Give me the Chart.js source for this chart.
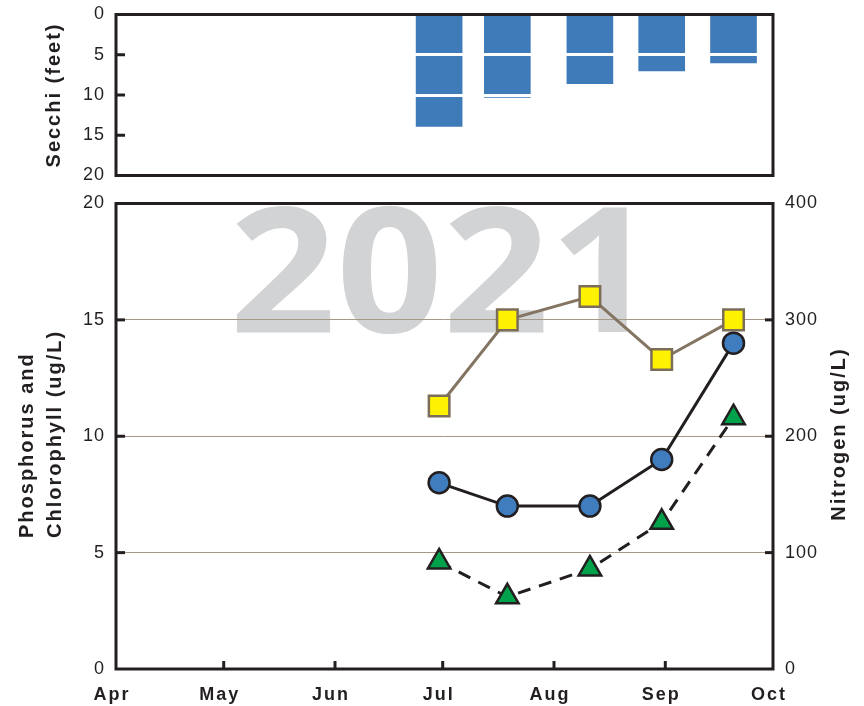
<!DOCTYPE html>
<html>
<head>
<meta charset="utf-8">
<title>Secchi depth and water chemistry 2021</title>
<script src="https://cdn.jsdelivr.net/npm/chart.js@4.4.1/dist/chart.umd.min.js"></script>
<style>
  html, body { margin: 0; padding: 0; background: #fff; }
  #wrap { position: relative; width: 864px; height: 706px; }
  #secchiChart { position: absolute; left: 0; top: 0; }
  #chemChart { position: absolute; left: 0; top: 192px; }
</style>
</head>
<body>
<div id="wrap">
  <canvas id="secchiChart" width="864" height="192"></canvas>
  <canvas id="chemChart" width="864" height="514"></canvas>
</div>
<script>
// Meses del eje x como dia del año (2021)
const monthDays = [91, 121, 152, 182, 213, 244, 274];
const monthLabels = ["Apr", "May", "Jun", "Jul", "Aug", "Sep", "Oct"];

// Fechas de muestreo (dia del año)
const sampleDays = [181, 200, 223, 243, 263];

// Valores
const secchiFeet = [13.9, 10.3, 8.6, 7.0, 6.0];
const phosphorus = [8.0, 7.0, 7.0, 9.0, 14.0];
const chlorophyll = [4.6, 3.1, 4.3, 6.3, 10.8];
const nitrogen = [226, 300, 320, 266, 300];

const secchiTicks = [0, 5, 10, 15, 20];
const leftTicks = [0, 5, 10, 15, 20];
const rightTicks = [0, 100, 200, 300, 400];
const yearLabel = "2021";

const FONT = "'Liberation Sans', Arial, sans-serif";
const INK = "#231f20";
Chart.defaults.font.family = FONT;
Chart.defaults.color = INK;

function toPoints(values) {
  return sampleDays.map((d, i) => ({ x: d, y: values[i] }));
}

function fixTicks(values) {
  return (scale) => { scale.ticks = values.map((v) => ({ value: v })); };
}

// Ancho fijo del eje y sin relleno extra por las etiquetas
function fixWidth(w) {
  return (s) => { s.width = w; s.paddingTop = 0; s.paddingBottom = 0; };
}

// Marca de agua del año, ajustada a la caja que ocupa en el original
function drawWatermark(ctx, wm) {
  ctx.save();
  ctx.letterSpacing = "0px";
  ctx.font = "bold 100px 'Open Sans', " + FONT;
  const m = ctx.measureText(wm.text);
  const glyphH = m.actualBoundingBoxAscent;
  const glyphW = m.actualBoundingBoxLeft + m.actualBoundingBoxRight;
  ctx.translate(wm.left, wm.baseline);
  ctx.scale(wm.width / glyphW, wm.height / glyphH);
  ctx.fillStyle = "#d1d3d4";
  ctx.textAlign = "left";
  ctx.textBaseline = "alphabetic";
  ctx.fillText(wm.text, m.actualBoundingBoxLeft, 0);
  ctx.restore();
}

// Marco, marcas hacia dentro, titulos y marca de agua
const framePlugin = {
  id: "frame",
  beforeDraw(chart, args, opts) {
    const ctx = chart.ctx;
    if (opts.watermark) drawWatermark(ctx, opts.watermark);
    ctx.letterSpacing = "1px";
  },
  afterDraw(chart, args, opts) {
    const ctx = chart.ctx;
    const a = chart.chartArea;
    ctx.save();
    ctx.strokeStyle = INK;
    ctx.lineWidth = 3;
    (opts.ticks || []).forEach((id) => {
      const s = chart.scales[id];
      s.ticks.forEach((t) => {
        const p = s.getPixelForValue(t.value);
        ctx.beginPath();
        if (s.isHorizontal()) {
          if (p <= a.left + 2 || p >= a.right - 2) return;
          ctx.moveTo(p, a.bottom);
          ctx.lineTo(p, a.bottom - 8);
        } else {
          if (p <= a.top + 2 || p >= a.bottom - 2) return;
          if (s.position === "left") {
            ctx.moveTo(a.left, p);
            ctx.lineTo(a.left + 9, p);
          } else {
            ctx.moveTo(a.right, p);
            ctx.lineTo(a.right - 8, p);
          }
        }
        ctx.stroke();
      });
    });
    ctx.lineJoin = "miter";
    ctx.strokeRect(a.left, a.top, a.right - a.left, a.bottom - a.top);

    ctx.fillStyle = INK;

    // Etiquetas de meses
    if (opts.monthAxis) {
      const s = chart.scales[opts.monthAxis];
      ctx.font = "bold 18px " + FONT;
      ctx.letterSpacing = "2px";
      ctx.textAlign = "center";
      ctx.textBaseline = "alphabetic";
      s.ticks.forEach((t) => {
        const label = monthLabels[monthDays.indexOf(t.value)];
        ctx.fillText(label, s.getPixelForValue(t.value) - 4, a.bottom + 31);
      });
    }

    ctx.font = "bold 20px " + FONT;
    ctx.letterSpacing = "2px";
    (opts.titles || []).forEach((tt) => {
      ctx.save();
      ctx.translate(tt.x, tt.y);
      ctx.rotate(-Math.PI / 2);
      ctx.textAlign = tt.align;
      ctx.textBaseline = "alphabetic";
      ctx.fillText(tt.text, 0, 0);
      ctx.restore();
    });
    ctx.restore();
  },
};

const tickFont = { size: 18 };

// Grafica de Secchi (arriba)
new Chart(document.getElementById("secchiChart"), {
  type: "bar",
  data: {
    datasets: [
      {
        label: "Secchi",
        data: toPoints(secchiFeet),
        backgroundColor: "#3e7bb8",
        borderWidth: 0,
        barThickness: 46,
      },
    ],
  },
  options: {
    responsive: false,
    animation: false,
    layout: { autoPadding: false, padding: { top: 14.5, bottom: 16.5, left: 0, right: 91 } },
    plugins: {
      legend: { display: false },
      tooltip: { enabled: false },
      frame: {
        ticks: ["y"],
        titles: [{ text: "Secchi (feet)", x: 60, y: 95, align: "center" }],
      },
    },
    scales: {
      x: {
        type: "linear",
        display: false,
        min: monthDays[0],
        max: monthDays[monthDays.length - 1],
        offset: false,
        grid: { offset: false },
      },
      y: {
        reverse: true,
        min: 0,
        max: 20,
        afterBuildTicks: fixTicks(secchiTicks),
        afterFit: fixWidth(116),
        border: { display: false },
        grid: {
          z: 1,
          lineWidth: 3,
          drawTicks: false,
          color: (c) => (c.tick.value > 0 && c.tick.value < 20 ? "#ffffff" : "rgba(0,0,0,0)"),
        },
        ticks: { font: tickFont, padding: 11 },
      },
    },
  },
  plugins: [framePlugin],
});

// Grafica de fosforo, clorofila y nitrogeno (abajo)
new Chart(document.getElementById("chemChart"), {
  type: "line",
  data: {
    datasets: [
      {
        label: "Chlorophyll",
        data: toPoints(chlorophyll),
        yAxisID: "y",
        borderColor: INK,
        borderWidth: 3,
        borderDash: [13, 9],
        pointStyle: "triangle",
        pointRadius: 13,
        pointBackgroundColor: "#00a14b",
        pointBorderColor: INK,
        pointBorderWidth: 2.5,
        tension: 0,
      },
      {
        label: "Phosphorus",
        data: toPoints(phosphorus),
        yAxisID: "y",
        borderColor: INK,
        borderWidth: 3,
        pointStyle: "circle",
        pointRadius: 10.5,
        pointBackgroundColor: "#3f7dbf",
        pointBorderColor: INK,
        pointBorderWidth: 2.5,
        tension: 0,
      },
      {
        label: "Nitrogen",
        data: toPoints(nitrogen),
        yAxisID: "y2",
        borderColor: "#847562",
        borderWidth: 3,
        pointStyle: "rect",
        pointRadius: 14.5,
        pointBackgroundColor: "#fff200",
        pointBorderColor: "#7c6d59",
        pointBorderWidth: 2.5,
        tension: 0,
      },
    ],
  },
  options: {
    responsive: false,
    animation: false,
    layout: { autoPadding: false, padding: { top: 11.5, bottom: 0, left: 0, right: 0 } },
    plugins: {
      legend: { display: false },
      tooltip: { enabled: false },
      frame: {
        ticks: ["x", "y", "y2"],
        monthAxis: "x",
        watermark: { text: yearLabel, left: 235, baseline: 140, width: 393, height: 127 },
        titles: [
          { text: "Phosphorus and", x: 33, y: 346, align: "left" },
          { text: "Chlorophyll (ug/L)", x: 60.5, y: 346, align: "left" },
          { text: "Nitrogen (ug/L)", x: 845, y: 242, align: "center" },
        ],
      },
    },
    scales: {
      x: {
        type: "linear",
        min: monthDays[0],
        max: monthDays[monthDays.length - 1],
        offset: false,
        afterBuildTicks: fixTicks(monthDays),
        afterFit: (s) => { s.height = 37; s.paddingLeft = 0; s.paddingRight = 0; },
        border: { display: false },
        grid: { display: false, drawTicks: false },
        ticks: { display: false },
      },
      y: {
        position: "left",
        min: 0,
        max: 20,
        afterBuildTicks: fixTicks(leftTicks),
        afterFit: fixWidth(116),
        border: { display: false },
        grid: {
          lineWidth: 1,
          drawTicks: false,
          color: (c) => (c.tick.value > 0 && c.tick.value < 20 ? "#a59886" : "rgba(0,0,0,0)"),
        },
        ticks: { font: tickFont, padding: 11 },
      },
      y2: {
        position: "right",
        min: 0,
        max: 400,
        afterBuildTicks: fixTicks(rightTicks),
        afterFit: fixWidth(91),
        border: { display: false },
        grid: { display: false, drawTicks: false },
        ticks: { font: tickFont, padding: 12 },
      },
    },
  },
  plugins: [framePlugin],
});
</script>
</body>
</html>
